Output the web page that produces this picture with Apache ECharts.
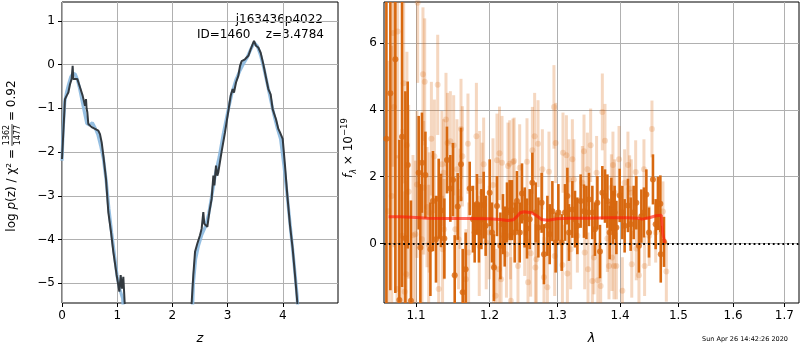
<!DOCTYPE html>
<html lang="en">
<head>
<meta charset="UTF-8">
<title>p(z) / spectrum</title>
<script src="https://cdn.jsdelivr.net/npm/echarts@6/dist/echarts.min.js"></script>
<style>
    html, body {margin: 0; padding: 0; background: #fff;}
    #main {width: 800px; height: 350px;}
</style>
</head>
<body>
<div id="main"></div>
<script>
    // left panel: log p(z)
    var darkZ = [0, 0.024, 0.054, 0.085, 0.115, 0.145, 0.175, 0.193, 0.205, 0.235, 0.278, 0.326, 0.374, 0.417, 0.435, 0.445, 0.459, 0.477, 0.537, 0.598, 0.658, 0.688, 0.719, 0.749, 0.797, 0.839, 0.888, 0.930, 0.990, 1.039, 1.063, 1.087, 1.111, 1.135, 1.16, 1.7,
        2.33, 2.349, 2.379, 2.41, 2.452, 2.5, 2.53, 2.56, 2.578, 2.633, 2.669, 2.711, 2.742, 2.76, 2.79, 2.814, 2.832, 2.89, 2.953, 3.01, 3.056, 3.092, 3.116, 3.152, 3.194, 3.225, 3.255, 3.315, 3.376, 3.418, 3.478, 3.514, 3.556, 3.599, 3.647, 3.696, 3.738, 3.78, 3.816, 3.877, 3.919, 3.949, 3.98, 3.998, 4.04, 4.082, 4.13, 4.179, 4.221, 4.263, 4.28];
    var darkLogp = [-2.16, -1.55, -0.79, -0.71, -0.64, -0.45, -0.33, -0.03, -0.33, -0.37, -0.33, -0.52, -0.71, -0.94, -0.79, -1.0, -1.09, -1.36, -1.43, -1.47, -1.51, -1.59, -1.78, -2.08, -2.61, -3.37, -3.83, -4.28, -4.81, -5.19, -4.81, -5.12, -4.85, -5.44, -6.5, null,
        -6.5, -5.44, -4.81, -4.28, -4.09, -3.9, -3.75, -3.37, -3.64, -3.71, -3.37, -3.07, -2.54, -2.76, -2.31, -2.54, -2.46, -2.0, -1.55, -1.09, -0.71, -0.56, -0.64, -0.41, -0.26, -0.03, 0.08, 0.12, 0.2, 0.35, 0.54, 0.43, 0.39, 0.27, 0.01, -0.3, -0.56, -0.68, -1.02, -1.25, -1.47, -1.55, -1.51, -1.7, -2.31, -2.99, -3.67, -4.21, -4.81, -5.44, -6.5];
    var blueZ = [0, 0.02, 0.05, 0.08, 0.12, 0.16, 0.2, 0.24, 0.28, 0.32, 0.36, 0.4, 0.45, 0.5, 0.55, 0.6, 0.65, 0.7, 0.75, 0.8, 0.85, 0.9, 0.95, 1.0, 1.05, 1.1, 1.15, 1.7,
        2.34, 2.38, 2.42, 2.47, 2.53, 2.6, 2.66, 2.72, 2.78, 2.85, 2.92, 3.0, 3.08, 3.15, 3.22, 3.28, 3.35, 3.42, 3.48, 3.54, 3.6, 3.66, 3.72, 3.78, 3.84, 3.9, 3.96, 4.02, 4.08, 4.14, 4.2, 4.26, 4.3];
    var blueLogp = [-2.2, -1.5, -0.85, -0.65, -0.45, -0.28, -0.2, -0.22, -0.35, -0.55, -0.8, -1.05, -1.35, -1.38, -1.33, -1.45, -1.6, -1.85, -2.15, -2.65, -3.3, -3.85, -4.35, -4.85, -5.15, -5.35, -6.5, null,
        -6.5, -5.0, -4.45, -4.15, -3.9, -3.7, -3.4, -2.95, -2.5, -2.1, -1.6, -1.1, -0.65, -0.35, -0.15, 0.0, 0.15, 0.35, 0.5, 0.42, 0.2, -0.1, -0.45, -0.8, -1.15, -1.45, -1.7, -2.3, -3.0, -3.75, -4.5, -5.3, -6.5];
    var zTicks = [0, 1, 2, 3, 4];
    var logpTicks = [-5, -4, -3, -2, -1, 0, 1];

    // right panel: spectrum
    var lamTicks = [1.1, 1.2, 1.3, 1.4, 1.5, 1.6, 1.7];
    var fluxTicks = [0, 2, 4, 6];
    var darkLam = [1.0622, 1.0672, 1.0735, 1.0786, 1.0820, 1.0863, 1.0893, 1.0935, 1.1035, 1.1057, 1.1078, 1.1123, 1.1189, 1.1223, 1.1263, 1.1299, 1.1330, 1.1375, 1.1410, 1.1456,
        1.1492, 1.1515, 1.1556, 1.1601, 1.1624, 1.1665, 1.1721, 1.1766, 1.1790, 1.1822, 1.1850, 1.1884, 1.1916, 1.1944, 1.2001, 1.2034, 1.2062, 1.2105, 1.2154, 1.2191,
        1.2216, 1.2249, 1.2288, 1.2321, 1.2361, 1.2394, 1.2434, 1.2468, 1.2508, 1.2542, 1.2582, 1.2622, 1.2671, 1.2712, 1.2761, 1.2796, 1.2848, 1.2883, 1.2924, 1.2974,
        1.3016, 1.3067, 1.3118, 1.3155, 1.3180, 1.3233, 1.3274, 1.3311, 1.3363, 1.3416, 1.3454, 1.3495, 1.3549, 1.3591, 1.3630, 1.3672, 1.3710, 1.3753, 1.3792, 1.3829,
        1.3857, 1.3883, 1.3911, 1.3939, 1.3994, 1.4038, 1.4076, 1.4131, 1.4177, 1.4227, 1.4272, 1.4316, 1.4357, 1.4401, 1.4442, 1.4487, 1.4555, 1.4602, 1.4641, 1.4683,
        1.4690, 1.4746];
    var darkFlux = [3.14, 4.5, 5.52, -1.69, 3.2, 0.16, 2.35, -1.71, 2.12, -0.12, 2.42, 2.05, -0.17, 1.27, 0.13, 1.34, 0.99, 0.15, 2.50, 1.65,
        1.91, -0.95, 1.11, 2.37, -1.46, -0.77, 1.65, 0.73, 0.33, 1.18, 0.33, 0.73, 1.15, 0.53, 1.52, 0.33, -0.72, 1.12, -0.07, 0.58,
        0.21, 0.93, 1.00, 1.00, 0.33, 1.27, 0.33, 1.50, 0.78, 0.45, 0.73, 1.82, 0.93, 0.48, 1.22, -0.32, 0.53, 0.28, 0.97, 0.03,
        0.93, 0.03, 0.93, 1.42, 0.33, 1.02, 0.73, 0.53, 1.27, 0.97, 0.93, 1.32, 0.93, 0.43, 1.22, -0.24, 1.52, 1.42, 1.27, 0.33,
        1.17, 0.78, 0.93, 0.48, 1.44, 0.93, 0.53, 1.14, 0.58, 0.93, 1.22, -0.07, 0.82, 0.93, 1.47, 0.33, 1.92, 0.58, 1.20, 1.19,
        -0.32, 0.05];
    var darkErr = [8, 5.9, 7, 4.8, 4.5, 4.4, 2.5, 3.0, 1.7, 1.9, 1.5, 1.3, 1.4, 1.5, 1.3, 1.2, 1.1, 1.2, 1.0, 1.0,
        1.1, 1.2, 1.0, 1.1, 1.3, 1.1, 0.8, 1.0, 0.9, 0.9, 0.9, 0.9, 1.0, 0.9, 1.0, 0.9, 1.0, 0.9, 1.0, 0.9,
        0.9, 0.9, 0.9, 0.9, 0.9, 0.9, 0.9, 0.9, 0.9, 0.9, 0.9, 0.9, 0.9, 0.9, 0.9, 0.9, 0.9, 0.9, 0.9, 0.9,
        0.85, 0.85, 0.85, 0.85, 0.85, 0.85, 0.85, 0.85, 0.8, 0.8, 0.8, 0.8, 0.8, 0.8, 0.8, 0.8, 0.8, 0.8, 0.8, 0.8,
        0.8, 0.8, 0.8, 0.8, 0.8, 0.8, 0.8, 0.8, 0.8, 0.8, 0.8, 0.8, 0.8, 0.75, 0.75, 0.75, 0.75, 0.75, 0.8, 0.85,
        0.85, 0.75];
    var lightLam = [1.0647, 1.0689, 1.0705, 1.0718, 1.0756, 1.0764, 1.0820, 1.0841, 1.0854, 1.0876, 1.0883, 1.0905, 1.0961, 1.0992, 1.1013, 1.1022, 1.1078, 1.1091, 1.1100, 1.1114,
        1.1144, 1.1166, 1.1175, 1.1202, 1.1242, 1.1286, 1.1299, 1.1343, 1.1351, 1.1365, 1.1372, 1.1397, 1.1418, 1.1456, 1.1501, 1.1523, 1.1546, 1.1568, 1.1588, 1.1601,
        1.1620, 1.1669, 1.1697, 1.1706, 1.1814, 1.1854, 1.1860, 1.1894, 1.1916, 1.1952, 1.1995, 1.2048, 1.2056, 1.2086, 1.2105, 1.2132, 1.2141, 1.2164, 1.2177, 1.2241,
        1.2263, 1.2288, 1.2299, 1.2305, 1.2336, 1.2353, 1.2409, 1.2434, 1.2508, 1.2542, 1.2557, 1.2597, 1.2622, 1.2656, 1.2667, 1.2682, 1.2707, 1.2772, 1.2796, 1.2848,
        1.2872, 1.2948, 1.2959, 1.2974, 1.3078, 1.3087, 1.3140, 1.3155, 1.3180, 1.3206, 1.3233, 1.3257, 1.3311, 1.3390, 1.3416, 1.3427, 1.3470, 1.3480, 1.3522, 1.3549,
        1.3575, 1.3617, 1.3637, 1.3683, 1.3710, 1.3753, 1.3792, 1.3818, 1.3857, 1.3867, 1.3883, 1.3900, 1.3911, 1.3939, 1.3983, 1.4038, 1.4076, 1.4131, 1.4159, 1.4187,
        1.4195, 1.4261, 1.4271, 1.4316, 1.4401, 1.4412, 1.4490, 1.4538, 1.4602, 1.4728, 1.4787];
    var lightFlux = [0.97, 1.42, 6.3, 4.09, -1.36, 6.35, 0.23, 4.8, -1.44, -0.92, 2.94, 1.55, 0.25, 0.28, 1.77, 7.21, 0.13, 5.07, 1.67, 4.84,
        1.09, -0.04, 0.93, 3.14, 2.61, 4.75, -1.36, 2.37, -0.17, 2.12, 0.43, 3.71, 3.01, 3.06, 2.94, 0.43, 2.22, 0.13, 1.34, 3.43,
        2.61, -1.07, 2.99, -0.27, 3.21, -0.07, 1.87, 1.52, 2.37, 0.03, 0.33, 1.75, -0.67, -1.56, 2.49, -0.77, 2.70, -1.07, 2.42, -0.32,
        2.32, 2.39, 0.23, -1.71, 2.44, 2.47, -0.67, 2.27, 0.33, 2.45, -1.16, -0.29, 2.79, 3.21, -0.72, -0.47, 2.99, 2.22, -1.01, -1.31,
        2.15, 4.09, -0.37, 3.01, -0.64, 2.72, 2.64, -0.90, 1.92, -0.17, 2.52, 1.92, 0.23, 1.82, 2.76, -0.27, 2.22, -0.77, 2.94, -1.12,
        -0.42, 2.12, -1.10, -1.27, 3.94, 3.08, 0.15, -0.67, 1.67, -0.42, 2.35, -0.67, 1.52, -0.67, 2.52, -1.41, 1.82, 2.35, 1.64, 1.52,
        -0.62, 2.14, -0.15, -0.95, 2.22, -0.67, 0.23, 3.43, 0.33, 0.96, -0.84];
    var lightErr = [4.5, 4.5, 4.0, 4.2, 4.0, 3.8, 3.2, 3.0, 3.0, 2.8, 2.8, 2.6, 2.4, 2.2, 2.2, 2.4, 2.0, 2.0, 2.0, 1.9,
        1.8, 1.8, 1.8, 1.7, 1.7, 1.5, 1.6, 1.6, 1.6, 1.6, 1.5, 1.4, 1.5, 1.5, 1.5, 1.5, 1.5, 1.5, 1.5, 1.5,
        1.5, 1.5, 1.5, 1.5, 1.6, 1.5, 1.5, 1.5, 1.4, 1.4, 1.4, 1.4, 1.4, 1.4, 1.4, 1.4, 1.4, 1.4, 1.4, 1.3,
        1.3, 1.3, 1.3, 1.3, 1.3, 1.3, 1.3, 1.3, 1.3, 1.3, 1.3, 1.3, 1.3, 1.3, 1.3, 1.3, 1.3, 1.2, 1.2, 1.2,
        1.2, 1.25, 1.2, 1.2, 1.2, 1.2, 1.2, 1.2, 1.2, 1.2, 1.2, 1.2, 1.1, 1.1, 1.1, 1.1, 1.1, 1.1, 1.1, 1.1,
        1.1, 1.1, 1.1, 1.1, 1.15, 1.1, 1.0, 1.0, 1.0, 1.0, 1.0, 1.0, 1.0, 1.0, 1.0, 1.0, 1.0, 1.0, 1.0, 1.0,
        1.0, 0.95, 0.95, 0.95, 0.9, 0.9, 0.9, 0.85, 0.9, 0.9, 0.9];
    var modelLam = [1.065, 1.08, 1.10, 1.115, 1.14, 1.17, 1.20, 1.215, 1.226, 1.234, 1.24, 1.244, 1.25, 1.261, 1.268, 1.276, 1.286, 1.299, 1.32, 1.35, 1.38, 1.41, 1.43, 1.437, 1.449, 1.461, 1.47, 1.4725, 1.4758];
    var modelFlux = [0.80, 0.80, 0.78, 0.76, 0.75, 0.75, 0.74, 0.72, 0.69, 0.71, 0.82, 0.92, 0.95, 0.92, 0.84, 0.72, 0.70, 0.74, 0.76, 0.76, 0.77, 0.77, 0.76, 0.73, 0.77, 0.83, 0.85, 0.3, 0.02];

    var FONT = 'DejaVu Sans';
    var darkOrange = '#d8680f';
    var lightOrange = 'rgba(217,95,2,0.25)';

    function zip(a, b) {
        return a.map(function (v, i) { return [v, b[i]]; });
    }
    function minus(v) {
        return v < 0 ? '\u2212' + Math.abs(v) : String(v);
    }
    function errData(lam, flux, err) {
        return lam.map(function (l, i) { return [Math.log(l), flux[i] - err[i], flux[i] + err[i]]; });
    }
    function errBars(color, width) {
        return function (params, api) {
            var p1 = api.coord([api.value(0), api.value(1)]);
            var p2 = api.coord([api.value(0), api.value(2)]);
            return {
                type: 'line',
                shape: {x1: p1[0], y1: p1[1], x2: p2[0], y2: p2[1]},
                style: {stroke: color, lineWidth: width}
            };
        };
    }
    var logLam = function (arr) { return arr.map(Math.log); };

    var tickStyle = {show: true, length: 4, lineStyle: {color: '#000', width: 1}};
    var gridLine = {show: true, lineStyle: {color: '#b0b0b0', width: 1}};
    var labelStyle = {color: '#000', fontSize: 12, fontFamily: FONT};
    var noLine = {show: false, onZero: false};

    var myChart = echarts.init(document.getElementById('main'));
    var option = {
        animation: false,
        backgroundColor: '#fff',
        grid: [
            {left: 62, top: 2, width: 276, height: 302, show: true, borderColor: '#000', borderWidth: 1, backgroundColor: 'transparent'},
            {left: 384, top: 2, width: 415, height: 302, show: true, borderColor: '#000', borderWidth: 1, backgroundColor: 'transparent'}
        ],
        xAxis: [{
            gridIndex: 0, type: 'value', min: 0, max: 5, position: 'bottom',
            axisLine: noLine, axisTick: Object.assign({customValues: zTicks}, tickStyle),
            axisLabel: Object.assign({customValues: zTicks, margin: 7, formatter: minus}, labelStyle),
            splitLine: gridLine,
            name: 'z', nameLocation: 'middle', nameGap: 29,
            nameTextStyle: {fontStyle: 'italic', fontSize: 13, fontFamily: FONT, color: '#000'}
        }, {
            gridIndex: 1, type: 'value', min: Math.log(1.0592), max: Math.log(1.7297), position: 'bottom',
            axisLine: noLine, axisTick: Object.assign({customValues: logLam(lamTicks)}, tickStyle),
            axisLabel: Object.assign({
                customValues: logLam(lamTicks), margin: 7,
                formatter: function (v) { return Math.exp(v).toFixed(1); }
            }, labelStyle),
            splitLine: gridLine,
            name: '\u03bb', nameLocation: 'middle', nameGap: 29,
            nameTextStyle: {fontStyle: 'italic', fontSize: 13, fontFamily: FONT, color: '#000'}
        }],
        yAxis: [{
            gridIndex: 0, type: 'value', min: -5.45, max: 1.43, position: 'left',
            axisLine: noLine, axisTick: Object.assign({customValues: logpTicks}, tickStyle),
            axisLabel: Object.assign({customValues: logpTicks, margin: 7, formatter: minus}, labelStyle),
            splitLine: gridLine
        }, {
            gridIndex: 1, type: 'value', min: -1.78, max: 7.23, position: 'left',
            axisLine: noLine, axisTick: Object.assign({customValues: fluxTicks}, tickStyle),
            axisLabel: Object.assign({customValues: fluxTicks, margin: 7, formatter: minus}, labelStyle),
            splitLine: gridLine
        }],
        series: [{
            type: 'line', xAxisIndex: 0, yAxisIndex: 0,
            data: zip(blueZ, blueLogp), showSymbol: false, connectNulls: false,
            lineStyle: {color: '#8ab8df', width: 3.2, opacity: 0.9}
        }, {
            type: 'line', xAxisIndex: 0, yAxisIndex: 0,
            data: zip(darkZ, darkLogp), showSymbol: false, connectNulls: false,
            lineStyle: {color: '#333a40', width: 2}
        }, {
            type: 'custom', xAxisIndex: 1, yAxisIndex: 1, clip: true,
            renderItem: errBars(lightOrange, 3), data: errData(lightLam, lightFlux, lightErr)
        }, {
            type: 'scatter', xAxisIndex: 1, yAxisIndex: 1, symbolSize: 6,
            itemStyle: {color: lightOrange},
            data: zip(logLam(lightLam), lightFlux)
        }, {
            type: 'custom', xAxisIndex: 1, yAxisIndex: 1, clip: true,
            renderItem: errBars(darkOrange, 2.6), data: errData(darkLam, darkFlux, darkErr)
        }, {
            type: 'scatter', xAxisIndex: 1, yAxisIndex: 1, symbolSize: 6,
            itemStyle: {color: darkOrange},
            data: zip(logLam(darkLam), darkFlux)
        }, {
            type: 'line', xAxisIndex: 1, yAxisIndex: 1,
            data: zip(logLam(modelLam), modelFlux), showSymbol: false,
            lineStyle: {color: '#ff1a0a', width: 3, opacity: 0.65},
            markLine: {
                silent: true, symbol: 'none', label: {show: false},
                lineStyle: {color: '#000', width: 1.8, type: [1.8, 3], opacity: 1},
                data: [{yAxis: 0}]
            }
        }],
        graphic: [{
            type: 'group', x: 12, y: 238, rotation: Math.PI / 2,
            children: [{
                type: 'text', x: 89, y: 0,
                style: {
                    text: 'log {i|p}(z) / \u03c7\u00b2 =', align: 'right', verticalAlign: 'middle',
                    fontSize: 12, fontFamily: FONT, fill: '#000',
                    rich: {i: {fontStyle: 'italic', fontSize: 12, fontFamily: FONT}}
                }
            }, {
                type: 'text', x: 103, y: -5,
                style: {text: '1362', align: 'center', verticalAlign: 'middle', fontSize: 8, fontFamily: FONT, fill: '#000'}
            }, {
                type: 'line', shape: {x1: 92, y1: 0, x2: 114, y2: 0}, style: {stroke: '#000', lineWidth: 0.8}
            }, {
                type: 'text', x: 103, y: 5.5,
                style: {text: '1477', align: 'center', verticalAlign: 'middle', fontSize: 8, fontFamily: FONT, fill: '#000'}
            }, {
                type: 'text', x: 117, y: 0,
                style: {text: '= 0.92', align: 'left', verticalAlign: 'middle', fontSize: 12, fontFamily: FONT, fill: '#000'}
            }]
        }, {
            type: 'group', x: 349, y: 148, rotation: Math.PI / 2,
            children: [{
                type: 'text', x: 0, y: 0,
                style: {
                    text: '{i|f}{sub|\u03bb} \u00d7 10{sup|\u221219}', align: 'center', verticalAlign: 'middle',
                    fontSize: 12, fontFamily: FONT, fill: '#000',
                    rich: {
                        i: {fontStyle: 'italic', fontSize: 12, fontFamily: FONT, lineHeight: 18, verticalAlign: 'middle'},
                        sub: {fontSize: 8, fontFamily: FONT, fontStyle: 'italic', lineHeight: 18, verticalAlign: 'bottom'},
                        sup: {fontSize: 8.5, fontFamily: FONT, lineHeight: 18, verticalAlign: 'top'}
                    }
                }
            }]
        }, {
            type: 'text', x: 323, y: 20,
            style: {text: 'j163436p4022', align: 'right', verticalAlign: 'middle', fontSize: 12, fontFamily: FONT, fill: '#000'}
        }, {
            type: 'text', x: 324, y: 35,
            style: {text: 'ID=1460    z=3.4784', align: 'right', verticalAlign: 'middle', fontSize: 12, fontFamily: FONT, fill: '#000'}
        }, {
            type: 'text', x: 788, y: 339,
            style: {text: 'Sun Apr 26 14:42:26 2020', align: 'right', verticalAlign: 'middle', fontSize: 6.5, fontFamily: FONT, fill: '#000'}
        }]
    };
    myChart.setOption(option);
</script>
</body>
</html>
